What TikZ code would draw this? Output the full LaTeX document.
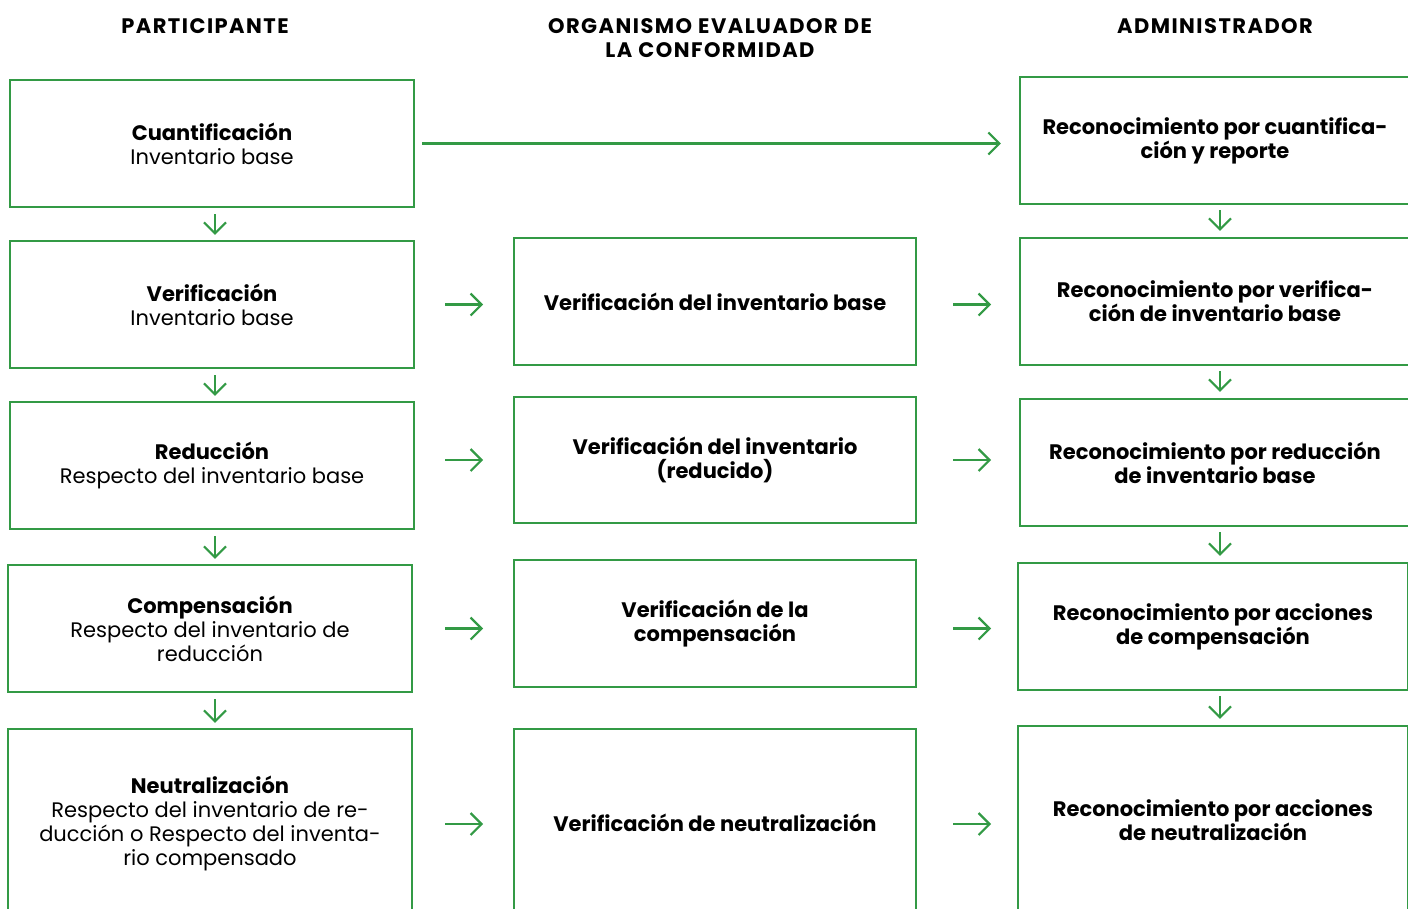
\documentclass[tikz,border=0pt]{standalone}
\usepackage{fontspec}
\setmainfont{Poppins}
\newfontfamily\hdrfont[LetterSpace=7]{Poppins}
\usetikzlibrary{arrows.meta}
\definecolor{grn}{HTML}{339A45}
\tikzset{
  box/.style={draw=grn, line width=2.2pt, minimum width=404pt, minimum height=127pt,
    align=center, inner sep=0pt, text=black, font=\fontsize{21}{24}\selectfont},
  hdr/.style={align=center, inner sep=0pt, font=\hdrfont\fontsize{21}{24}\selectfont\bfseries},
  arr/.style={draw=grn, line width=2.2pt, -{Straight Barb[length=11pt,width=22pt,line width=2.2pt]}}
}
\begin{document}
\begin{tikzpicture}[x=1pt,y=-1pt]
\useasboundingbox (0,0) rectangle (1408,908);
% headers
\node[hdr] (h1) at (205,26) {PARTICIPANTE};
\node[hdr] (h2) at (710,38) {ORGANISMO EVALUADOR DE\\LA CONFORMIDAD};
\node[hdr] (h3) at (1215,26) {ADMINISTRADOR};
% column 1
\node[box] (c1a) at (212,143.5) {{\bfseries Cuantificación}\\Inventario base};
\node[box] (c1b) at (212,304.5) {{\bfseries Verificación}\\Inventario base};
\node[box] (c1c) at (212,465.5) {{\bfseries Reducción}\\Respecto del inventario base};
\node[box] (c1d) at (210,628.5) {{\bfseries Compensación}\\Respecto del inventario de\\reducción};
\node[box, minimum height=188pt] (c1e) at (210,823) {{\bfseries Neutralización}\\Respecto del inventario de re-\\ducción o Respecto del inventa-\\rio compensado};
% column 2
\node[box, minimum width=402pt] (c2b) at (715,301.5) {\bfseries Verificación del inventario base};
\node[box, minimum width=402pt, minimum height=126pt] (c2c) at (715,460) {\bfseries Verificación del inventario\\\bfseries (reducido)};
\node[box, minimum width=402pt] (c2d) at (715,623.5) {\bfseries Verificación de la\\\bfseries compensación};
\node[box, minimum width=402pt, minimum height=188pt] (c2e) at (715,823) {\bfseries Verificación de neutralización};
% column 3
\node[box, minimum width=390pt] (c3a) at (1215,140.5) {\bfseries Reconocimiento por cuantifica-\\\bfseries ción y reporte};
\node[box, minimum width=390pt] (c3b) at (1215,301.5) {\bfseries Reconocimiento por verifica-\\\bfseries ción de inventario base};
\node[box, minimum width=390pt] (c3c) at (1215,462.5) {\bfseries Reconocimiento por reducción\\\bfseries de inventario base};
\node[box, minimum width=390pt] (c3d) at (1213,626.5) {\bfseries Reconocimiento por acciones\\\bfseries de compensación};
\node[box, minimum width=390pt, minimum height=188pt] (c3e) at (1213,820) {\bfseries Reconocimiento por acciones\\\bfseries de neutralización};
% top arrow
\draw[arr, shorten <=7pt, shorten >=18pt] (c1a.east) -- (c3a.west |- c1a.east);
% vertical arrows column 1
\draw[arr, shorten <=6pt, shorten >=5pt] ([xshift=3pt]c1a.south) -- ([xshift=3pt]c1b.north);
\draw[arr, shorten <=6pt, shorten >=5pt] ([xshift=3pt]c1b.south) -- ([xshift=3pt]c1c.north);
\draw[arr, shorten <=6pt, shorten >=5pt] ([xshift=3pt]c1c.south) -- ([xshift=5pt]c1d.north);
\draw[arr, shorten <=6pt, shorten >=5pt] ([xshift=5pt]c1d.south) -- ([xshift=5pt]c1e.north);
% vertical arrows column 3
\draw[arr, shorten <=5pt, shorten >=6pt] ([xshift=5pt]c3a.south) -- ([xshift=5pt]c3b.north);
\draw[arr, shorten <=5pt, shorten >=6pt] ([xshift=5pt]c3b.south) -- ([xshift=5pt]c3c.north);
\draw[arr, shorten <=5pt, shorten >=6pt] ([xshift=5pt]c3c.south) -- ([xshift=7pt]c3d.north);
\draw[arr, shorten <=5pt, shorten >=6pt] ([xshift=7pt]c3d.south) -- ([xshift=7pt]c3e.north);
% horizontal arrows col1 -> col2
\draw[arr] (c1b.east) ++(30pt,0) -- ++(38pt,0);
\draw[arr] (c1c.east |- c2c.west) ++(30pt,0) -- ++(38pt,0);
\draw[arr] (c1d.east) ++(32pt,0) -- ++(38pt,0);
\draw[arr] (c1e.east) ++(32pt,-1pt) -- ++(38pt,0);
% horizontal arrows col2 -> col3
\draw[arr] (c2b.east |- c1b.east) ++(36pt,0) -- ++(38pt,0);
\draw[arr] (c2c.east) ++(36pt,0) -- ++(38pt,0);
\draw[arr] (c2d.east |- c1d.east) ++(36pt,0) -- ++(38pt,0);
\draw[arr] (c2e.east) ++(36pt,-1pt) -- ++(38pt,0);
\end{tikzpicture}
\end{document}
